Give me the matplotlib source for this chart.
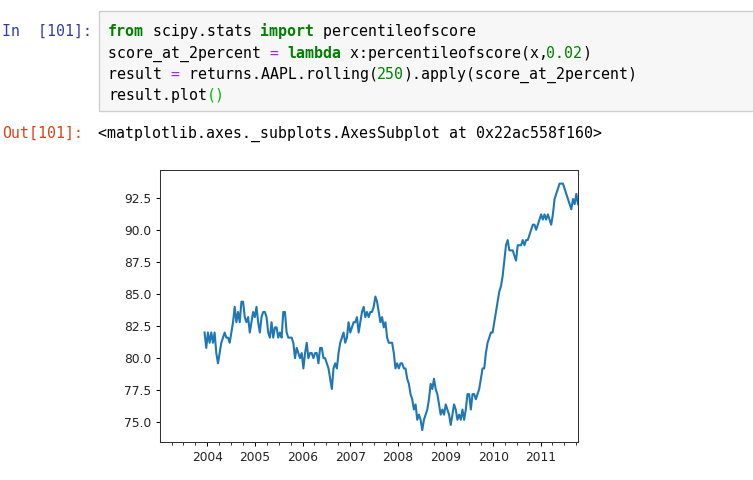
import pandas as pd
import matplotlib
matplotlib.use("Agg")
import matplotlib.pyplot as plt
import matplotlib.dates as mdates
from matplotlib.ticker import MultipleLocator
from matplotlib.patches import Rectangle

# === data ===
# rolling 250-day percentile of 2% score (AAPL), sampled roughly every 9 trading days
start_date = "2003-12-10"
end_date = "2011-10-14"
pct_values = [
    82.0, 80.8, 82.0, 81.2, 82.0, 81.2, 82.0, 80.4, 79.6, 80.4,
    81.2, 81.6, 82.0, 81.6, 81.6, 81.2, 82.0, 82.8, 84.0, 82.8,
    83.6, 82.8, 84.4, 84.4, 83.2, 82.8, 83.2, 82.0, 82.8, 83.6,
    83.2, 84.0, 82.8, 82.0, 83.2, 83.6, 83.6, 83.2, 82.0, 81.6,
    82.8, 81.6, 82.4, 82.4, 81.6, 82.0, 81.6, 83.6, 83.6, 82.0,
    81.6, 81.6, 81.6, 81.2, 80.0, 80.8, 80.4, 80.0, 80.4, 79.2,
    80.4, 81.2, 80.0, 80.4, 80.4, 80.0, 80.4, 80.4, 79.6, 80.8,
    80.8, 80.0, 80.0, 79.6, 79.2, 78.4, 77.6, 79.2, 79.6, 79.2,
    80.4, 81.2, 81.6, 82.0, 81.2, 81.6, 82.8, 82.0, 82.4, 82.8,
    82.8, 83.2, 82.0, 82.8, 83.6, 84.0, 83.2, 83.6, 83.2, 83.6,
    83.6, 84.0, 84.8, 84.4, 83.6, 82.8, 83.2, 82.4, 82.8, 81.6,
    81.2, 81.2, 81.2, 80.4, 79.2, 79.6, 79.2, 79.6, 79.6, 79.2,
    79.2, 78.4, 78.0, 77.2, 76.8, 76.0, 76.4, 75.2, 75.6, 75.2,
    74.4, 75.2, 75.6, 76.0, 76.8, 78.0, 77.6, 78.4, 77.6, 77.2,
    76.4, 75.6, 76.0, 75.6, 76.4, 76.0, 75.6, 74.8, 75.6, 76.4,
    76.0, 75.2, 75.6, 75.2, 76.0, 75.2, 76.0, 77.2, 77.2, 76.0,
    77.2, 77.2, 76.8, 77.2, 77.6, 78.4, 79.2, 79.2, 80.4, 81.2,
    81.6, 82.0, 82.0, 82.8, 83.6, 84.4, 85.2, 85.6, 86.4, 87.6,
    88.8, 89.2, 88.4, 88.4, 88.4, 88.0, 87.6, 88.8, 88.8, 88.8,
    89.2, 88.8, 89.2, 89.2, 89.6, 90.0, 90.4, 90.4, 90.0, 90.4,
    90.8, 91.2, 90.8, 91.2, 90.8, 91.2, 90.8, 90.4, 91.2, 92.4,
    92.8, 93.2, 93.6, 93.6, 93.6, 93.2, 92.8, 92.4, 92.0, 91.6,
    92.4, 92.0, 92.8, 92.0,
]
dates = pd.date_range(start_date, end_date, periods=len(pct_values))
result = pd.Series(pct_values, index=dates)

# notebook cell text
in_prompt = "In  [101]:"
out_prompt = "Out[101]:"
out_text = "<matplotlib.axes._subplots.AxesSubplot at 0x22ac558f160>"
code_lines = [
    [("from", "#008000", "bold"), (" scipy.stats ", "#000000", "normal"),
     ("import", "#008000", "bold"), (" percentileofscore", "#000000", "normal")],
    [("score_at_2percent ", "#000000", "normal"), ("=", "#AA22FF", "normal"),
     (" ", "#000000", "normal"), ("lambda", "#008000", "bold"),
     (" x:percentileofscore(x,", "#000000", "normal"), ("0.02", "#008000", "normal"),
     (")", "#000000", "normal")],
    [("result ", "#000000", "normal"), ("=", "#AA22FF", "normal"),
     (" returns.AAPL.rolling(", "#000000", "normal"), ("250", "#008000", "normal"),
     (").apply(score_at_2percent)", "#000000", "normal")],
    [("result.plot", "#000000", "normal"), ("()", "#00BB00", "normal")],
]

# === figure ===
W, H = 753, 480
fig = plt.figure(figsize=(W / 100, H / 100), dpi=100)
fig.patch.set_facecolor("white")


def fx(px):
    return px / W


def fy(py):
    return 1 - py / H


mono = "DejaVu Sans Mono"
fsize = 10.7
adv = 0.60205 * fsize * 100 / 72  # char width in px

# code cell box
fig.patches.append(Rectangle((fx(98.5), fy(110.5)), fx(700), 99.5 / H,
                             transform=fig.transFigure, facecolor="#F7F7F7",
                             edgecolor="#CFCFCF", linewidth=1.0))

fig.text(fx(2), fy(36), in_prompt, family=mono, fontsize=fsize,
         color="#303F9F", va="baseline")
fig.text(fx(2), fy(137.3), out_prompt, family=mono, fontsize=fsize,
         color="#D84315", va="baseline")
fig.text(fx(98.5), fy(137.3), out_text, family=mono, fontsize=fsize,
         color="#000000", va="baseline")

baselines = [36, 58, 79, 100]
for line, base in zip(code_lines, baselines):
    n = 0
    for txt, col, wt in line:
        fig.text(fx(108 + n * adv), fy(base), txt, family=mono, fontsize=fsize,
                 color=col, fontweight=wt, va="baseline")
        n += len(txt)

# chart
left, right, top, bottom = 160, 578, 170, 442
ax = fig.add_axes([fx(left), fy(bottom), (right - left) / W, (bottom - top) / H])
ax.plot(result.index, result.values, color="#1f77b4", linewidth=1.5)

ax.set_xlim(pd.Timestamp("2003-01-02"), pd.Timestamp("2011-10-14"))
ax.set_ylim(73.47, 94.66)
ax.yaxis.set_major_locator(MultipleLocator(2.5))
ax.xaxis.set_major_locator(mdates.YearLocator())
ax.xaxis.set_major_formatter(mdates.DateFormatter("%Y"))
ax.xaxis.set_minor_locator(mdates.MonthLocator(bymonth=[1, 4, 7, 10]))

ax.tick_params(which="major", length=3.1, width=0.7, pad=3.1, labelsize=8.8,
               labelcolor="#222222")
ax.tick_params(which="minor", length=1.8, width=0.55)
for sp in ax.spines.values():
    sp.set_linewidth(0.75)
    sp.set_color("#333333")

fig.savefig("out.png", dpi=100)
